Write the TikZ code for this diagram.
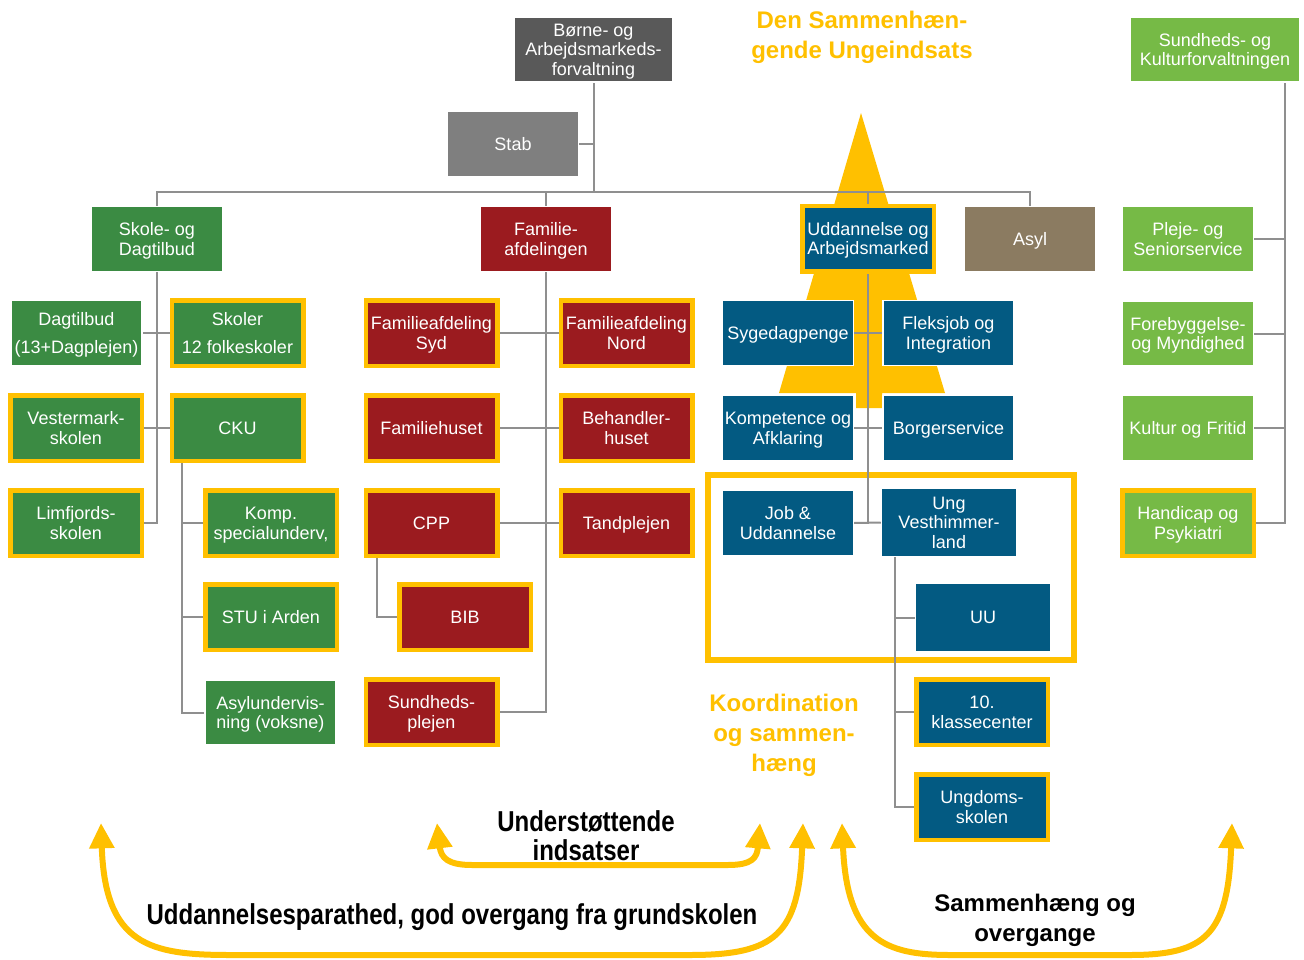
\documentclass[tikz,border=0pt]{standalone}
\usepackage{fontspec}
\setmainfont{Liberation Sans}
\usetikzlibrary{arrows.meta}
\pgfdeclarelayer{back}
\pgfdeclarelayer{background}
\pgfsetlayers{back,background,main}
\definecolor{yel}{HTML}{FFC000}
\definecolor{dgray}{HTML}{595959}
\definecolor{mgray}{HTML}{7F7F7F}
\definecolor{grn}{HTML}{3B8B43}
\definecolor{rd}{HTML}{9B1B1F}
\definecolor{blu}{HTML}{035A82}
\definecolor{taupe}{HTML}{8B7B61}
\definecolor{lgrn}{HTML}{76BA46}
\definecolor{lgray}{HTML}{8F8F8F}
\newcommand\pxu{0.75pt}
\newcommand\bxfont{\fontsize{13.5}{14.5}\selectfont}
\newcommand\ttlfont{\bfseries\fontsize{18}{22.5}\selectfont}
\newcommand\tstr{\rule{0pt}{12.7pt}}
\newcommand\bstr{\rule[-3pt]{0pt}{3pt}}
\begin{document}
\begin{tikzpicture}[x=0.75pt,y=-0.75pt,
  box/.style={draw=white, line width=1.5*\pxu, inner sep=0pt, minimum width=131*\pxu, minimum height=65*\pxu, text=white, font=\bxfont, align=center,
    execute at begin node={\rule{0pt}{12.7pt}}, execute at end node={\rule[-3pt]{0pt}{3pt}}},
  ybox/.style={box, draw=yel, line width=4.5*\pxu, minimum width=131.5*\pxu, minimum height=65.5*\pxu},
  conn/.style={draw=lgray, line width=2*\pxu},
  ttl/.style={text=yel, font=\ttlfont, align=center, inner sep=0pt},
  lbl/.style={text=black, inner sep=0pt},
  yarr/.style={draw=yel, line width=6*\pxu, {Triangle[width=18pt,length=19pt]}-{Triangle[width=18pt,length=19pt]}}
]
\useasboundingbox (0,0) rectangle (1304,960);
\begin{pgfonlayer}{back}
\fill[white] (0,0) rectangle (1304,960);
\fill[yel] (861,113) -- (945,393) -- (882,393) -- (882,408) -- (856,408) -- (856,393) -- (779,393) -- cycle;
\draw[yel, line width=6*\pxu] (708,474.5) rectangle (1074,660);
\end{pgfonlayer}

% top level
\node[box, fill=dgray, minimum width=159*\pxu] (top) at (593.5,49.5) {\tstr Børne- og\\Arbejdsmarkeds-\\forvaltning\bstr};
\node[box, fill=mgray] (stab) at (513,144) {Stab};
\node[box, fill=grn] (skole) at (157,239) {\tstr Skole- og\\Dagtilbud\bstr};
\node[box, fill=rd] (familie) at (546,239) {\tstr Familie-\\afdelingen\bstr};
\node[ybox, fill=blu] (udd) at (868,238.5) {\tstr Uddannelse og\\Arbejdsmarked\bstr};
\node[box, fill=taupe] (asyl) at (1030,239) {Asyl};
\node[box, fill=lgrn, minimum width=170*\pxu] (sk) at (1215,49.5) {\tstr Sundheds- og\\Kulturforvaltningen\bstr};

% green column
\node[box, fill=grn] (dagtilbud) at (76.5,333) {\tstr Dagtilbud\\[6pt](13+Dagplejen)\bstr};
\node[ybox, fill=grn] (skoler) at (237.5,333) {\tstr Skoler\\[6pt]12 folkeskoler\bstr};
\node[ybox, fill=grn] (vester) at (76,428) {\tstr Vestermark-\\skolen\bstr};
\node[ybox, fill=grn] (cku) at (237.5,428) {CKU};
\node[ybox, fill=grn] (limf) at (76,523) {\tstr Limfjords-\\skolen\bstr};
\node[ybox, fill=grn] (komp) at (271,523) {\tstr Komp.\\specialunderv,\bstr};
\node[ybox, fill=grn] (stu) at (271,617) {STU i Arden};
\node[box, fill=grn] (asylu) at (270.5,712.5) {\tstr Asylundervis-\\ning (voksne)\bstr};

% red column
\node[ybox, fill=rd] (fsyd) at (431.5,333) {\tstr Familieafdeling\\Syd\bstr};
\node[ybox, fill=rd] (fnord) at (626.5,333) {\tstr Familieafdeling\\Nord\bstr};
\node[ybox, fill=rd] (fhus) at (431.5,428) {Familiehuset};
\node[ybox, fill=rd] (beh) at (626.5,428) {\tstr Behandler-\\huset\bstr};
\node[ybox, fill=rd] (cpp) at (431.5,523) {CPP};
\node[ybox, fill=rd] (tand) at (626.5,523) {Tandplejen};
\node[ybox, fill=rd] (bib) at (465,617) {BIB};
\node[ybox, fill=rd] (sundp) at (431.5,712) {\tstr Sundheds-\\plejen\bstr};

% blue column
\node[box, fill=blu] (syge) at (788,333) {Sygedagpenge};
\node[box, fill=blu] (fleks) at (948.5,333) {\tstr Fleksjob og\\Integration\bstr};
\node[box, fill=blu] (komp2) at (788,428) {\tstr Kompetence og\\Afklaring\bstr};
\node[box, fill=blu] (borger) at (948.5,428) {Borgerservice};
\node[box, fill=blu] (job) at (788,523) {\tstr Job \&\\Uddannelse\bstr};
\node[box, fill=blu, minimum width=135*\pxu, minimum height=68*\pxu] (ung) at (949,522.5) {\tstr Ung\\Vesthimmer-\\land\bstr};
\node[box, fill=blu, minimum width=135*\pxu, minimum height=68*\pxu] (uu) at (983,617.5) {UU};
\node[ybox, fill=blu] (tiende) at (982,712) {\tstr 10.\\klassecenter\bstr};
\node[ybox, fill=blu] (ungdom) at (982,807) {\tstr Ungdoms-\\skolen\bstr};

% light green column
\node[box, fill=lgrn] (pleje) at (1188,239) {\tstr Pleje- og\\Seniorservice\bstr};
\node[box, fill=lgrn] (foreb) at (1188,333.5) {\tstr Forebyggelse-\\og Myndighed\bstr};
\node[box, fill=lgrn] (kultur) at (1188,428) {Kultur og Fritid};
\node[ybox, fill=lgrn] (handi) at (1188,523) {\tstr Handicap og\\Psykiatri\bstr};

% connectors
\begin{pgfonlayer}{background}
\coordinate (bus) at (594,192);
\draw[conn] (top.south) -- (top.south |- bus);
\draw[conn] (skole.north) -- (skole.north |- bus) -| (asyl.north);
\draw[conn] (familie.north) -- (familie.north |- bus);
\draw[conn] (udd.north) -- (udd.north |- bus);
\draw[conn] (stab.east) -- (stab.east -| bus);

\draw[conn] (skole.south) |- (limf.east);
\draw[conn] (dagtilbud.east) -- (skoler.west);
\draw[conn] (vester.east) -- (cku.west);
\coordinate (ckux) at ([xshift=9pt]cku.south west);
\draw[conn] (ckux) |- (asylu.west);
\draw[conn] (komp.west) -- (komp.west -| ckux);
\draw[conn] (stu.west) -- (stu.west -| ckux);

\draw[conn] (familie.south) |- (sundp.east);
\draw[conn] (fsyd.east) -- (fnord.west);
\draw[conn] (fhus.east) -- (beh.west);
\draw[conn] (cpp.east) -- (tand.west);
\coordinate (cppx) at ([xshift=10pt]cpp.south west);
\draw[conn] (cppx) |- (bib.west);

\draw[conn] (udd.south) |- (job.east);
\draw[conn] (job.east) -- (ung.west);
\draw[conn] (syge.east) -- (fleks.west);
\draw[conn] (komp2.east) -- (borger.west);
\coordinate (ungx) at ([xshift=10.5pt]ung.south west);
\draw[conn] (ungx) |- (ungdom.west);
\draw[conn] (uu.west) -- (uu.west -| ungx);
\draw[conn] (tiende.west) -- (tiende.west -| ungx);

\coordinate (skx) at ([xshift=-12pt]sk.south east);
\draw[conn] (skx) |- (handi.east);
\draw[conn] (pleje.east) -- (pleje.east -| skx);
\draw[conn] (foreb.east) -- (foreb.east -| skx);
\draw[conn] (kultur.east) -- (kultur.east -| skx);
\end{pgfonlayer}

% titles
\node[ttl] (t1) at (862,37.5) {Den Sammenhæn-\\gende Ungeindsats};
\node[ttl] (t2) at (784,735) {Koordination\\og sammen-\\hæng};

% bottom arrows
\draw[yarr] (101,823) .. controls (105,945) and (150,955) .. (230,955) -- (690,955) .. controls (775,955) and (799,935) .. (803,823);
\draw[yarr] (437,823) .. controls (441,858) and (448,865) .. (472,865) -- (728,865) .. controls (752,865) and (757,858) .. (760,823);
\draw[yarr] (842,823) .. controls (847,940) and (885,955) .. (950,955) -- (1130,955) .. controls (1205,955) and (1228,935) .. (1232,823);

\node[lbl] (l1) at (586,840) {\scalebox{1}[1.2]{\bfseries\fontsize{18}{18}\selectfont\begin{tabular}{@{}c@{}}Understøttende\\indsatser\end{tabular}}};
\node[lbl] (l2) at (452,917.5) {\scalebox{1}[1.2]{\bfseries\fontsize{18}{18}\selectfont Uddannelsesparathed, god overgang fra grundskolen}};
\node[lbl, font=\bfseries\fontsize{18}{23}\selectfont, align=center] (l3) at (1035,920.5) {Sammenhæng og\\overgange};
\end{tikzpicture}
\end{document}
